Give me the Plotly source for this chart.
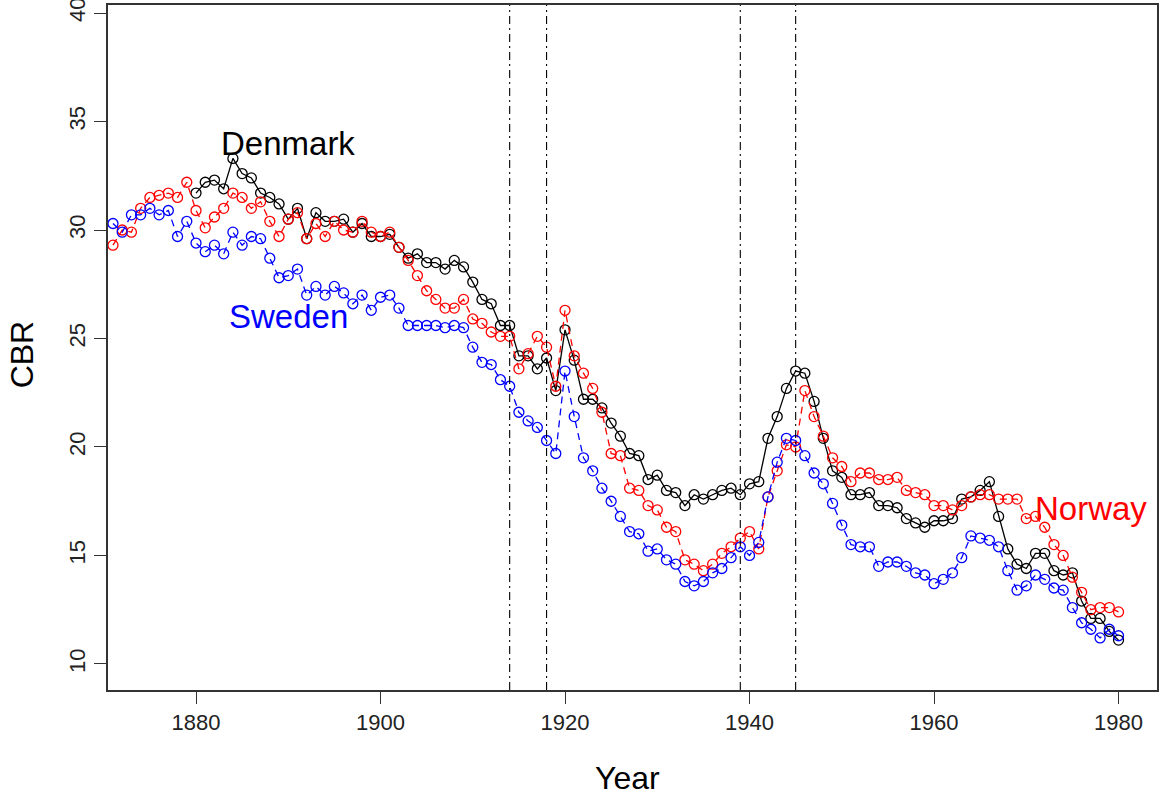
import plotly.graph_objects as go

years_dk = list(range(1880, 1981))
years_ns = list(range(1871, 1981))

denmark = [31.7, 32.2, 32.3, 31.9, 33.3, 32.6, 32.4, 31.7, 31.5, 31.2,
           30.5, 31.0, 29.6, 30.8, 30.4, 30.4, 30.5, 29.9, 30.3, 29.7,
           29.7, 29.8, 29.2, 28.7, 28.9, 28.5, 28.5, 28.2, 28.6, 28.3,
           27.6, 26.8, 26.6, 25.6, 25.6, 24.2, 24.2, 23.6, 24.1, 22.6,
           25.4, 24.0, 22.2, 22.2, 21.8, 21.1, 20.5, 19.7, 19.6, 18.5,
           18.7, 18.0, 17.9, 17.3, 17.8, 17.6, 17.8, 18.0, 18.1, 17.8,
           18.3, 18.4, 20.4, 21.4, 22.7, 23.5, 23.4, 22.1, 20.4, 18.9,
           18.6, 17.8, 17.8, 17.9, 17.3, 17.3, 17.2, 16.7, 16.5, 16.3,
           16.6, 16.6, 16.7, 17.6, 17.7, 18.0, 18.4, 16.8, 15.3, 14.6,
           14.4, 15.1, 15.1, 14.3, 14.1, 14.2, 12.9, 12.1, 12.1, 11.5,
           11.1]

norway = [29.3, 30.0, 29.9, 31.0, 31.5, 31.6, 31.7, 31.5, 32.2,
          30.9, 30.1, 30.6, 31.0, 31.7, 31.5, 31.0, 31.3, 30.4, 29.7,
          30.5, 30.8, 29.6, 30.3, 29.7, 30.4, 30.0, 29.9, 30.4, 29.9,
          29.7, 29.9, 29.2, 28.6, 27.9, 27.2, 26.8, 26.4, 26.4, 26.8,
          25.9, 25.7, 25.3, 25.1, 25.1, 23.6, 24.3, 25.1, 24.6, 22.8,
          26.3, 24.2, 23.4, 22.7, 21.6, 19.7, 19.6, 18.1, 18.0, 17.3,
          17.1, 16.3, 16.1, 14.8, 14.6, 14.3, 14.6, 15.1, 15.4, 15.8,
          16.1, 15.3, 17.7, 18.9, 20.1, 20.0, 22.6, 21.4, 20.5, 19.5,
          19.1, 18.4, 18.8, 18.8, 18.5, 18.5, 18.6, 18.0, 17.9, 17.8,
          17.3, 17.3, 17.1, 17.3, 17.7, 17.8, 17.8, 17.6, 17.6, 17.6,
          16.7, 16.8, 16.3, 15.5, 15.0, 14.0, 13.3, 12.5, 12.6, 12.6,
          12.4]

sweden = [30.3, 29.9, 30.7, 30.7, 31.0, 30.7, 30.9, 29.7, 30.4,
          29.4, 29.0, 29.3, 28.9, 29.9, 29.3, 29.7, 29.6, 28.7, 27.8,
          27.9, 28.2, 27.0, 27.4, 27.0, 27.4, 27.1, 26.6, 27.0, 26.3,
          26.9, 27.0, 26.4, 25.6, 25.6, 25.6, 25.6, 25.5, 25.6, 25.5,
          24.6, 23.9, 23.8, 23.1, 22.8, 21.6, 21.2, 20.9, 20.3, 19.7,
          23.5, 21.4, 19.5, 18.9, 18.1, 17.5, 16.8, 16.1, 16.0, 15.2,
          15.3, 14.8, 14.6, 13.8, 13.6, 13.8, 14.2, 14.4, 14.9, 15.4,
          15.0, 15.6, 17.7, 19.3, 20.4, 20.3, 19.6, 18.8, 18.3, 17.4,
          16.4, 15.5, 15.4, 15.4, 14.5, 14.7, 14.7, 14.5, 14.2, 14.1,
          13.7, 13.9, 14.2, 14.9, 15.9, 15.8, 15.7, 15.4, 14.3, 13.4,
          13.6, 14.1, 13.9, 13.5, 13.4, 12.6, 11.9, 11.6, 11.2, 11.6,
          11.3]

war_years = [1914, 1918, 1939, 1945]
x_ticks = [1880, 1900, 1920, 1940, 1960, 1980]
y_ticks = [10, 15, 20, 25, 30, 35, 40]

labels = [("Denmark", 1890, 34.0, "black"),
          ("Sweden", 1890, 26.0, "blue"),
          ("Norway", 1977, 17.15, "red")]

FONT = "Liberation Sans, Arial, sans-serif"

fig = go.Figure()

def add_series(x, y, color, dash):
    fig.add_trace(go.Scatter(
        x=x, y=y, mode="lines+markers",
        line=dict(color=color, width=1.3, dash=dash),
        marker=dict(symbol="circle-open", size=10, color=color,
                    line=dict(width=1.3, color=color)),
        showlegend=False, hoverinfo="skip"))

add_series(years_dk, denmark, "black", "solid")
add_series(years_ns, norway, "red", "7px,5px")
add_series(years_ns, sweden, "blue", "7px,5px")

for wy in war_years:
    fig.add_shape(type="line", xref="x", yref="paper", x0=wy, x1=wy,
                  y0=0, y1=1,
                  line=dict(color="black", width=1.1, dash="8px,4px,2px,4px"))

for text, xv, yv, col in labels:
    fig.add_annotation(x=xv, y=yv, text=text, showarrow=False,
                       font=dict(family=FONT, size=33, color=col),
                       xanchor="center", yanchor="middle")

fig.add_annotation(text="Year", xref="paper", yref="paper", x=0.495, y=0,
                   yanchor="middle", xanchor="center", yshift=-88,
                   showarrow=False, font=dict(family=FONT, size=32, color="black"))
fig.add_annotation(text="CBR", xref="paper", yref="paper", x=0, y=0.49,
                   xanchor="center", yanchor="middle", xshift=-86, textangle=-90,
                   showarrow=False, font=dict(family=FONT, size=32, color="black"))

fig.update_layout(
    width=1160, height=796,
    margin=dict(l=108, r=3, t=5, b=106),
    plot_bgcolor="white", paper_bgcolor="white",
    font=dict(family=FONT, color="#222"),
)
fig.update_xaxes(range=[1870.46, 1984.17], tickvals=x_ticks, automargin=False,
                 ticks="outside", ticklen=12, tickwidth=1.3, tickcolor="#333",
                 showline=True, linecolor="#333", linewidth=1.6, mirror=True,
                 showgrid=False, zeroline=False, ticklabeloverflow="allow",
                 tickfont=dict(family=FONT, size=22, color="#222"))
fig.update_yaxes(range=[8.8, 40.37], tickvals=y_ticks, tickangle=-90, automargin=False,
                 ticks="outside", ticklen=12, tickwidth=1.3, tickcolor="#333",
                 showline=True, linecolor="#333", linewidth=1.6, mirror=True,
                 showgrid=False, zeroline=False, ticklabeloverflow="allow",
                 tickfont=dict(family=FONT, size=22, color="#222"))

fig.write_html("out.html", config={"displayModeBar": False},
               post_script="document.body.style.margin='0';document.body.style.padding='0';")
